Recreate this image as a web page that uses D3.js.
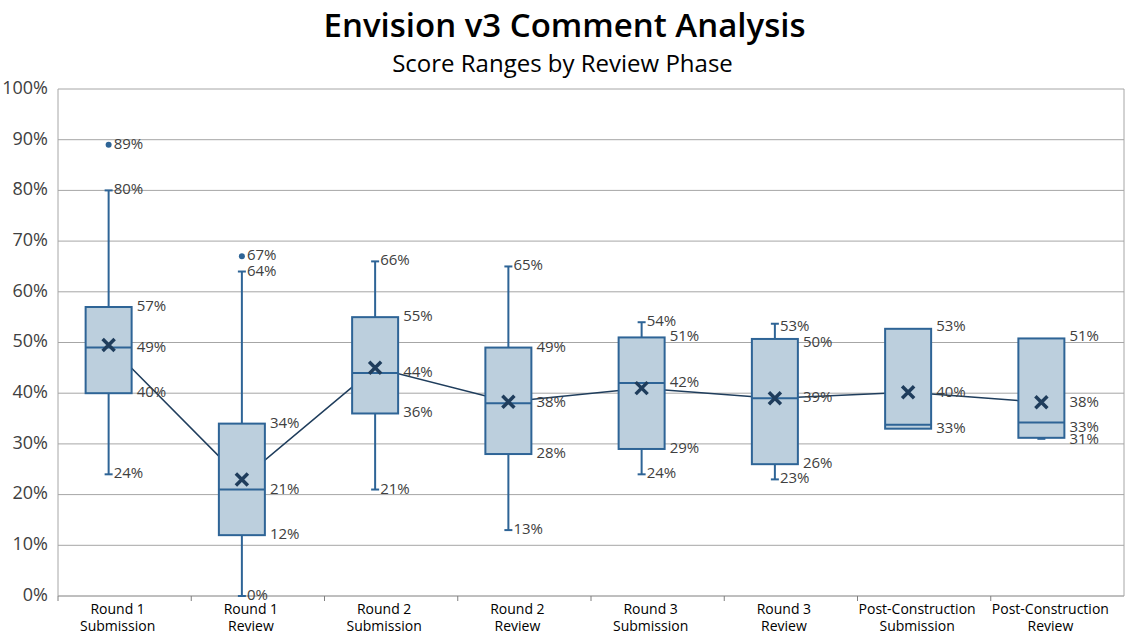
<!DOCTYPE html>
<html>
<head>
<meta charset="utf-8">
<script src="https://cdn.jsdelivr.net/npm/d3@7"></script>
<style>
  body { margin: 0; background: #fff; font-family: "Open Sans", sans-serif; }
  .title { font-size: 33px; font-weight: 600; fill: #000; }
  .subtitle { font-size: 24px; fill: #000; }
  .ytick text { font-size: 18px; fill: #404040; }
  .cat { font-size: 14px; fill: #000; }
  .val { font-size: 15px; fill: #404040; }
</style>
</head>
<body>
<div id="chart"></div>
<script>
// Box stats per review phase (percent)
const PHASES = [
    { name: ['Round 1', 'Submission'], min: 24, q1: 40, med: 49, q3: 57, max: 80, mean: 49.5, outliers: [89],
      labels: [['w', 89], ['w', 80], ['b', 57], ['b', 49], ['b', 40], ['w', 24]] },
    { name: ['Round 1', 'Review'], min: 0, q1: 12, med: 21, q3: 34, max: 64, mean: 23, outliers: [67],
      labels: [['w', 67], ['w', 64], ['b', 34], ['b', 21], ['b', 12], ['w', 0]] },
    { name: ['Round 2', 'Submission'], min: 21, q1: 36, med: 44, q3: 55, max: 66, mean: 45, outliers: [],
      labels: [['w', 66], ['b', 55], ['b', 44], ['b', 36], ['w', 21]] },
    { name: ['Round 2', 'Review'], min: 13, q1: 28, med: 38, q3: 49, max: 65, mean: 38.3, outliers: [],
      labels: [['w', 65], ['b', 49], ['b', 38], ['b', 28], ['w', 13]] },
    { name: ['Round 3', 'Submission'], min: 24, q1: 29, med: 42, q3: 51, max: 54, mean: 41, outliers: [],
      labels: [['w', 54], ['b', 51], ['b', 42], ['b', 29], ['w', 24]] },
    { name: ['Round 3', 'Review'], min: 23, q1: 26, med: 39, q3: 50.7, max: 53.7, mean: 39, outliers: [],
      labels: [['w', 53], ['b', 50], ['b', 39], ['b', 26], ['w', 23]] },
    { name: ['Post-Construction', 'Submission'], min: 33, q1: 33, med: 33.8, q3: 52.7, max: 52.7, mean: 40.2, outliers: [],
      labels: [['b', 53], ['b', 40], ['b', 33]] },
    { name: ['Post-Construction', 'Review'], min: 31, q1: 31.2, med: 34.2, q3: 50.8, max: 50.8, mean: 38.2, outliers: [],
      labels: [['b', 51], ['b', 38], ['b', 33.2, 33], ['b', 30.8, 31]] }
];

const width = 1125, height = 637;
const margin = { left: 58, right: 0, top: 89, bottom: 41 };
const boxShift = -16; // boxes sit left of the category centre

const svg = d3.select('#chart').append('svg')
    .attr('width', width).attr('height', height);

svg.append('text').attr('class', 'title')
    .attr('x', width / 2 + 2).attr('y', 37).attr('text-anchor', 'middle')
    .text('Envision v3 Comment Analysis');
svg.append('text').attr('class', 'subtitle')
    .attr('x', width / 2).attr('y', 72).attr('text-anchor', 'middle')
    .text('Score Ranges by Review Phase');

const x = d3.scaleBand()
    .domain(PHASES.map((d, i) => i))
    .range([margin.left, width - 1]);
const y = d3.scaleLinear().domain([0, 100]).range([height - margin.bottom, margin.top]);

// gridlines + y axis labels
const ticks = d3.range(0, 101, 10);
const grid = svg.append('g');
grid.selectAll('line').data(ticks).enter().append('line')
    .attr('x1', margin.left).attr('x2', width - 1)
    .attr('y1', d => y(d)).attr('y2', d => y(d))
    .attr('stroke', d => d === 0 ? '#7f7f7f' : '#a6a6a6').attr('stroke-width', 1);
svg.append('line')
    .attr('x1', margin.left).attr('x2', margin.left)
    .attr('y1', y(0)).attr('y2', y(100)).attr('stroke', '#a6a6a6');
svg.append('line')
    .attr('x1', width - 1).attr('x2', width - 1)
    .attr('y1', y(0)).attr('y2', y(100)).attr('stroke', '#a6a6a6');
const yt = svg.append('g').attr('class', 'ytick');
yt.selectAll('text').data(ticks).enter().append('text')
    .attr('x', margin.left - 10).attr('y', d => y(d))
    .attr('text-anchor', 'end').attr('dominant-baseline', 'middle')
    .text(d => d + '%');

// category labels
PHASES.forEach((p, i) => {
    const cx = x(i) + x.bandwidth() / 2;
    svg.append('line').attr('x1', x(i)).attr('x2', x(i))
        .attr('y1', y(0)).attr('y2', y(0) + 5).attr('stroke', '#7f7f7f');
    p.name.forEach((t, k) => {
        svg.append('text').attr('class', 'cat')
            .attr('x', cx - 7).attr('y', y(0) + 18 + k * 17)
            .attr('text-anchor', 'middle').text(t);
    });
});

const boxW = 46, capW = 8;
const stroke = '#2e6496', fill = '#bccfdd', navy = '#1f3d5c';

// mean line
const line = d3.line().x((d, i) => x(i) + x.bandwidth() / 2 + boxShift).y(d => y(d.mean));
svg.append('path').datum(PHASES).attr('d', line)
    .attr('fill', 'none').attr('stroke', navy).attr('stroke-width', 1.5);

PHASES.forEach((p, i) => {
    const cx = x(i) + x.bandwidth() / 2 + boxShift;
    const g = svg.append('g');
    // whiskers
    [[p.max, p.q3], [p.min, p.q1]].forEach(([a, b]) => {
        if (a === b) return;
        g.append('line').attr('x1', cx).attr('x2', cx).attr('y1', y(a)).attr('y2', y(b))
            .attr('stroke', stroke).attr('stroke-width', 2);
        g.append('line').attr('x1', cx - capW / 2).attr('x2', cx + capW / 2)
            .attr('y1', y(a)).attr('y2', y(a)).attr('stroke', stroke).attr('stroke-width', 2);
    });
    g.append('rect').attr('x', cx - boxW / 2).attr('width', boxW)
        .attr('y', y(p.q3)).attr('height', y(p.q1) - y(p.q3))
        .attr('fill', fill).attr('stroke', stroke).attr('stroke-width', 2);
    g.append('line').attr('x1', cx - boxW / 2).attr('x2', cx + boxW / 2)
        .attr('y1', y(p.med)).attr('y2', y(p.med)).attr('stroke', stroke).attr('stroke-width', 2);
    p.outliers.forEach(o => {
        g.append('circle').attr('cx', cx).attr('cy', y(o)).attr('r', 3).attr('fill', stroke);
    });
    // mean marker
    const s = 6;
    g.append('path')
        .attr('d', `M${cx - s},${y(p.mean) - s}L${cx + s},${y(p.mean) + s}M${cx - s},${y(p.mean) + s}L${cx + s},${y(p.mean) - s}`)
        .attr('stroke', navy).attr('stroke-width', 3.5);
    // value labels
    p.labels.forEach(([type, v, shown]) => {
        g.append('text').attr('class', 'val')
            .attr('x', type === 'w' ? cx + 5 : cx + boxW / 2 + 5)
            .attr('y', y(v)).attr('dominant-baseline', 'middle')
            .text(Math.round(shown !== undefined ? shown : v) + '%');
    });
});
</script>
</body>
</html>
